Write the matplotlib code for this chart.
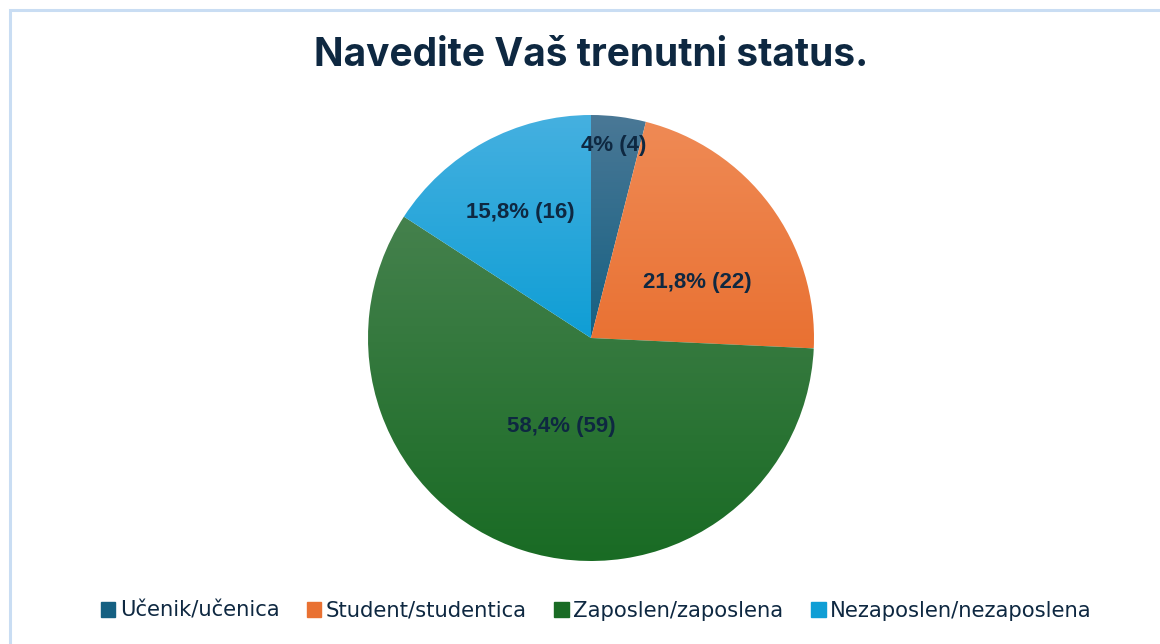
import numpy as np
import matplotlib.pyplot as plt
from matplotlib.colors import to_rgb
from matplotlib.patches import Rectangle

# data
categories = ['Učenik/učenica', 'Student/studentica', 'Zaposlen/zaposlena', 'Nezaposlen/nezaposlena']
counts = [4, 22, 59, 16]
pct_labels = ['4%', '21,8%', '58,4%', '15,8%']

base_colors = ['#156082', '#E97132', '#196B24', '#0F9ED5']
top_colors = ['#4a7896', '#ef8a55', '#45814d', '#45b0e0']
label_pos = [(0.103, 0.865), (0.475, 0.247), (-0.135, -0.395), (-0.318, 0.561)]

text_col = '#0E2841'

fig = plt.figure(figsize=(11.6, 6.44), dpi=100)
fig.patches.append(Rectangle((10 / 1160, -0.1), 1.2, 634 / 644 + 0.1, transform=fig.transFigure,
                             fill=False, edgecolor='#c9ddf3', linewidth=2.2))

ax = fig.add_axes([368 / 1160, 83 / 644, 446 / 1160, 446 / 644])
wedges, _ = ax.pie(counts, colors=base_colors, startangle=90, counterclock=False,
                   radius=1, wedgeprops=dict(linewidth=0))

# vertical gradient inside each slice, lighter at the top
for w, c0, c1 in zip(wedges, top_colors, base_colors):
    ext = w.get_path().get_extents()
    a = np.array(to_rgb(c0))
    b = np.array(to_rgb(c1))
    t = np.linspace(0, 1, 256)[:, None]
    img = (a * (1 - t) + b * t)[:, None, :]
    im = ax.imshow(img, extent=[ext.x0, ext.x1, ext.y0, ext.y1], origin='upper',
                   aspect='auto', interpolation='bilinear', zorder=w.get_zorder())
    im.set_clip_path(w)
    w.set_facecolor('none')

ax.set_xlim(-1, 1)
ax.set_ylim(-1, 1)
ax.set_aspect('equal')
ax.axis('off')

for (x, y), p, n in zip(label_pos, pct_labels, counts):
    ax.text(x, y, f'{p} ({n})', ha='center', va='center', fontsize=16,
            fontweight='bold', color=text_col, family='Liberation Sans', zorder=5)

fig.text(591 / 1160, 1 - 56 / 644, 'Navedite Vaš trenutni status.', ha='center', va='center',
         fontsize=28, fontweight='bold', color=text_col, family='Inter')

handles = [Rectangle((0, 0), 1, 1, color=c) for c in base_colors]
fig.legend(handles, categories, loc='center', bbox_to_anchor=(596 / 1160, 1 - 611 / 644), ncol=4,
           frameon=False, handlelength=0.7, handleheight=0.7, handletextpad=0.2,
           columnspacing=1.3, labelcolor=text_col,
           prop=dict(family='DejaVu Sans', size=15.2))

fig.savefig('out.png', dpi=100, facecolor='white')
